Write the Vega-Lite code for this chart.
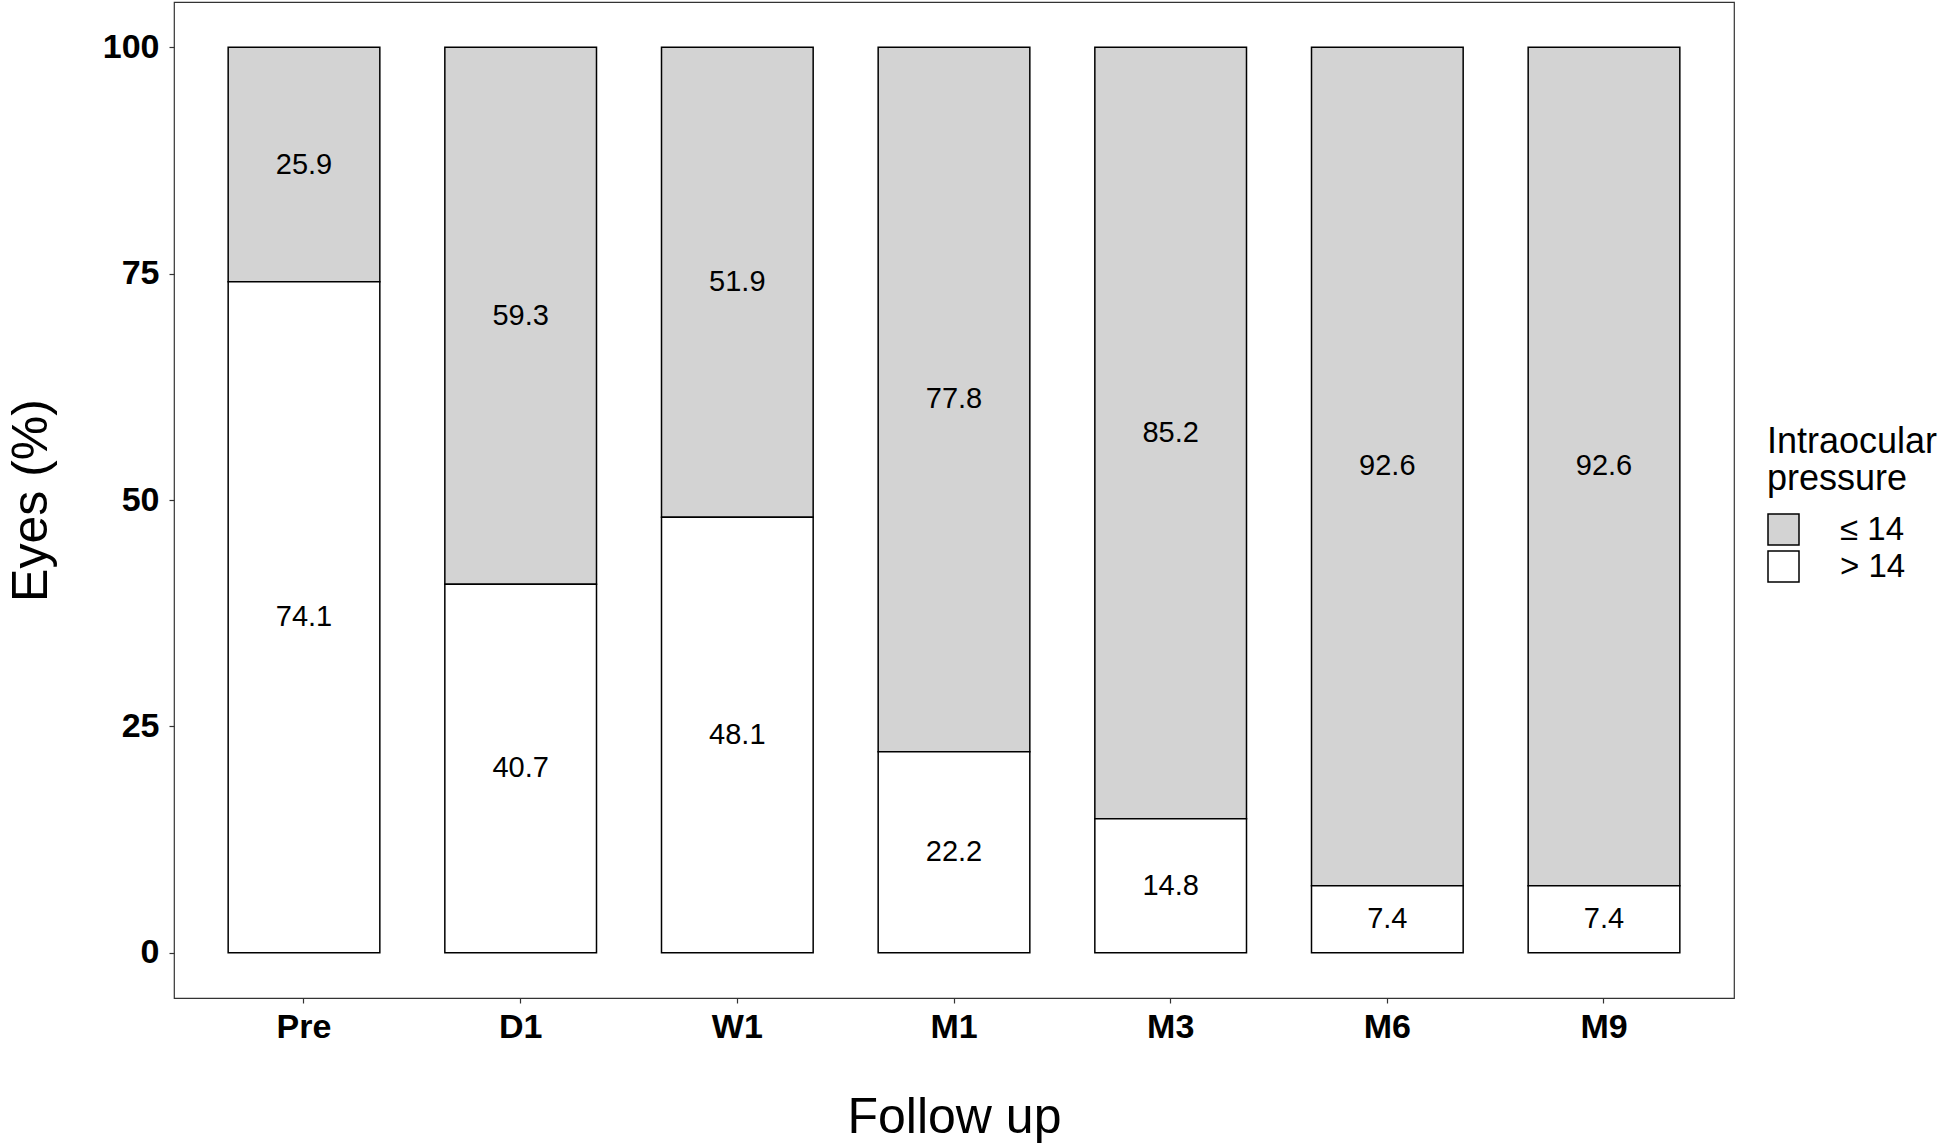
{
  "$schema": "https://vega.github.io/schema/vega-lite/v6.json",
  "width": 1560,
  "height": 996,
  "autosize": {"type": "none"},
  "padding": {"left": 174, "top": 2, "right": 212, "bottom": 148},
  "background": "white",
  "config": {
    "font": "Liberation Sans",
    "view": {"stroke": "#333333", "strokeWidth": 1.2},
    "axis": {"grid": false, "domain": false, "tickColor": "#333333", "tickSize": 5, "tickWidth": 1.2,
             "labelColor": "black", "titleColor": "black", "labelFont": "Liberation Sans", "titleFont": "Liberation Sans"}
  },
  "data": {
    "values": [
      {"time": "Pre", "group": "≤ 14", "value": 25.9},
      {"time": "Pre", "group": "> 14", "value": 74.1},
      {"time": "D1", "group": "≤ 14", "value": 59.3},
      {"time": "D1", "group": "> 14", "value": 40.7},
      {"time": "W1", "group": "≤ 14", "value": 51.9},
      {"time": "W1", "group": "> 14", "value": 48.1},
      {"time": "M1", "group": "≤ 14", "value": 77.8},
      {"time": "M1", "group": "> 14", "value": 22.2},
      {"time": "M3", "group": "≤ 14", "value": 85.2},
      {"time": "M3", "group": "> 14", "value": 14.8},
      {"time": "M6", "group": "≤ 14", "value": 92.6},
      {"time": "M6", "group": "> 14", "value": 7.4},
      {"time": "M9", "group": "≤ 14", "value": 92.6},
      {"time": "M9", "group": "> 14", "value": 7.4}
    ]
  },
  "transform": [
    {"stack": "value", "groupby": ["time"], "sort": [{"field": "group", "order": "ascending"}], "as": ["v0", "v1"]},
    {"calculate": "(datum.v0 + datum.v1) / 2", "as": "mid"}
  ],
  "encoding": {
    "x": {
      "field": "time", "type": "nominal",
      "sort": ["Pre", "D1", "W1", "M1", "M3", "M6", "M9"],
      "scale": {"paddingInner": 0.3, "paddingOuter": 0.25},
      "axis": {
        "title": "Follow up", "labelAngle": 0, "labelFontSize": 34, "labelFontWeight": "bold",
        "labelPadding": 7, "titleFontSize": 50, "titleFontWeight": "normal",
        "titleBaseline": "alphabetic", "titleY": 134, "titleX": 780, "titleAnchor": "middle", "titleAlign": "center"
      }
    }
  },
  "layer": [
    {
      "mark": {"type": "bar", "stroke": "black", "strokeWidth": 1.5},
      "encoding": {
        "y": {
          "field": "v0", "type": "quantitative",
          "scale": {"domain": [-5, 105], "nice": false, "zero": false},
          "axis": {
            "title": "Eyes (%)", "values": [0, 25, 50, 75, 100], "labelFontSize": 34, "labelFontWeight": "bold",
            "labelPadding": 10, "titleFontSize": 50, "titleFontWeight": "normal",
            "titleAngle": -90, "titleBaseline": "alphabetic", "titleX": -128, "titleY": 498, "titleAlign": "center"
          }
        },
        "y2": {"field": "v1"},
        "fill": {
          "field": "group", "type": "nominal",
          "scale": {"domain": ["≤ 14", "> 14"], "range": ["#D3D3D3", "#FFFFFF"]},
          "legend": {
            "title": ["Intraocular", "pressure"],
            "orient": "none", "legendX": 1593, "legendY": 423, "padding": 0,
            "titleFontSize": 36, "titleFontWeight": "normal", "titleLineHeight": 37, "titleColor": "black",
            "titlePadding": 15, "titleBaseline": "top",
            "symbolType": "square", "symbolSize": 961, "symbolStrokeColor": "black", "symbolStrokeWidth": 1.5,
            "labelFontSize": 33, "labelColor": "black", "labelOffset": 40, "rowPadding": 0
          }
        }
      }
    },
    {
      "mark": {"type": "text", "fontSize": 29, "color": "black", "baseline": "middle", "align": "center"},
      "encoding": {
        "y": {"field": "mid", "type": "quantitative"},
        "text": {"field": "value", "type": "quantitative", "format": ".1f"}
      }
    }
  ]
}
